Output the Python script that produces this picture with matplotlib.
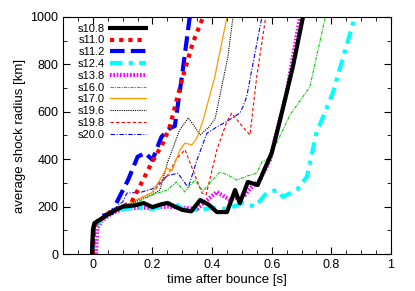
import matplotlib
matplotlib.use("Agg")
import matplotlib.pyplot as plt
from matplotlib.ticker import MultipleLocator

# shock radius histories (t in s, r in km)
t_108 = [-0.003, 0.0, 0.005, 0.03, 0.06, 0.1, 0.14, 0.17, 0.2, 0.23, 0.25, 0.3,
         0.33, 0.36, 0.39, 0.416, 0.45, 0.477, 0.493, 0.52, 0.553, 0.57, 0.6,
         0.628, 0.671, 0.705]
r_108 = [0, 100, 130, 150, 175, 200, 205, 215, 198, 210, 215, 186,
         180, 228, 207, 177, 177, 270, 215, 304, 291, 341, 426,
         565, 790, 1000]

t_110 = [0.0, 0.005, 0.03, 0.06, 0.1, 0.13, 0.168, 0.197, 0.235, 0.258, 0.3,
         0.335, 0.37]
r_110 = [0, 120, 150, 180, 200, 220, 312, 384, 468, 537, 740, 890, 1000]

t_112 = [-0.003, 0.003, 0.03, 0.064, 0.084, 0.118, 0.15, 0.175, 0.2, 0.23,
         0.258, 0.275, 0.3, 0.325]
r_112 = [0, 120, 160, 173, 228, 312, 410, 426, 397, 494, 530, 540, 760, 1000]

t_124 = [0.0, 0.005, 0.03, 0.06, 0.1, 0.15, 0.2, 0.27, 0.3, 0.35, 0.4, 0.45,
         0.503, 0.544, 0.583, 0.617, 0.638, 0.684, 0.718, 0.75, 0.805, 0.879]
r_124 = [0, 110, 145, 175, 190, 195, 190, 220, 190, 185, 195, 190,
         215, 200, 257, 270, 241, 270, 325, 510, 679, 1000]

t_138 = [0.01, 0.015, 0.03, 0.06, 0.1, 0.15, 0.2, 0.25, 0.3, 0.35, 0.376,
         0.416, 0.46, 0.51, 0.533, 0.56, 0.594, 0.65, 0.695]
r_138 = [0, 110, 140, 170, 190, 195, 195, 200, 195, 190, 220,
         262, 228, 249, 283, 312, 397, 680, 1000]

t_160 = [0.0, 0.005, 0.03, 0.06, 0.1, 0.15, 0.2, 0.25, 0.28, 0.308, 0.342,
         0.37, 0.4, 0.426, 0.45, 0.483, 0.52, 0.55, 0.567, 0.583, 0.61, 0.661,
         0.728, 0.78]
r_160 = [0, 110, 150, 180, 195, 220, 250, 270, 304, 262, 312,
         265, 310, 346, 335, 312, 330, 341, 388, 397, 450, 586,
         705, 1000]

t_170 = [0.0, 0.005, 0.03, 0.06, 0.1, 0.15, 0.2, 0.248, 0.265, 0.292, 0.309,
         0.332, 0.349, 0.37, 0.409, 0.45]
r_170 = [0, 110, 150, 180, 200, 230, 260, 363, 350, 439, 468,
         460, 489, 565, 747, 1000]

t_196 = [0.0, 0.005, 0.03, 0.06, 0.1, 0.15, 0.2, 0.225, 0.25, 0.29, 0.32,
         0.34, 0.36, 0.39, 0.41, 0.453, 0.47]
r_196 = [0, 110, 150, 180, 200, 225, 250, 270, 384, 520, 574,
         540, 502, 536, 570, 831, 1000]

t_198 = [0.0, 0.005, 0.03, 0.06, 0.1, 0.15, 0.2, 0.25, 0.28, 0.309, 0.34,
         0.366, 0.38, 0.416, 0.45, 0.466, 0.5, 0.527, 0.55, 0.58]
r_198 = [0, 110, 150, 180, 200, 230, 260, 330, 400, 440, 340,
         257, 250, 439, 560, 594, 540, 502, 750, 1000]

t_200 = [0.0, 0.005, 0.03, 0.06, 0.1, 0.114, 0.16, 0.2, 0.25, 0.285, 0.32,
         0.35, 0.383, 0.416, 0.45, 0.493, 0.503, 0.516, 0.567]
r_200 = [0, 110, 150, 180, 220, 257, 260, 275, 330, 341, 280,
         400, 510, 536, 560, 594, 620, 663, 1000]

plt.rcParams['font.family'] = ['Liberation Sans', 'DejaVu Sans']
plt.rcParams['font.size'] = 9

fig = plt.figure(figsize=(4.15, 2.91), dpi=100)
ax = fig.add_axes([0.152, 0.127, 0.79, 0.815])

ax.plot(t_200, r_200, color='blue', lw=0.8, ls=(0, (4, 1.5, 1, 1.5)), label='s20.0')
ax.plot(t_198, r_198, color='red', lw=0.8, ls=(0, (3, 2)), label='s19.8')
ax.plot(t_196, r_196, color='black', lw=0.8, ls=(0, (1, 1)), label='s19.6')
ax.plot(t_170, r_170, color='#ff9900', lw=0.9, ls='-', label='s17.0')
ax.plot(t_160, r_160, color='#00cc00', lw=0.8, ls=(0, (3, 1, 1, 1)), label='s16.0')
ax.plot(t_138, r_138, color='magenta', lw=3, ls=(0, (0.4, 0.4)), label='s13.8')
ax.plot(t_124, r_124, color='cyan', lw=3, ls=(0, (3, 1.5, 1, 1.5)), label='s12.4')
ax.plot(t_112, r_112, color='blue', lw=3, ls=(0, (3.5, 1.5)), label='s11.2')
ax.plot(t_110, r_110, color='red', lw=3, ls=(0, (1, 1.2)), label='s11.0')
ax.plot(t_108, r_108, color='black', lw=3, ls='-', label='s10.8')

handles, labels = ax.get_legend_handles_labels()
ax.legend(handles[::-1], labels[::-1], loc='upper left',
          bbox_to_anchor=(0.03, 0.99), frameon=False,
          markerfirst=False, handlelength=3.3, labelspacing=0.16,
          handletextpad=0.45, borderaxespad=0.0, fontsize=8)

ax.set_xlim(-0.1, 1)
ax.set_ylim(0, 1000)
ax.xaxis.set_major_locator(MultipleLocator(0.2))
ax.xaxis.set_minor_locator(MultipleLocator(0.05))
ax.yaxis.set_major_locator(MultipleLocator(200))
ax.yaxis.set_minor_locator(MultipleLocator(100))
ax.set_xticks([0, 0.2, 0.4, 0.6, 0.8, 1.0])
ax.set_xticklabels(['0', '0.2', '0.4', '0.6', '0.8', '1'])
ax.tick_params(which='both', direction='in', top=True, right=True)
ax.tick_params(which='major', length=5)
ax.tick_params(which='minor', length=3)
ax.set_xlabel('time after bounce [s]', labelpad=2, fontsize=9.5)
ax.set_ylabel('average shock radius [km]', labelpad=3, fontsize=9.5)

fig.savefig('out.png', dpi=100)
